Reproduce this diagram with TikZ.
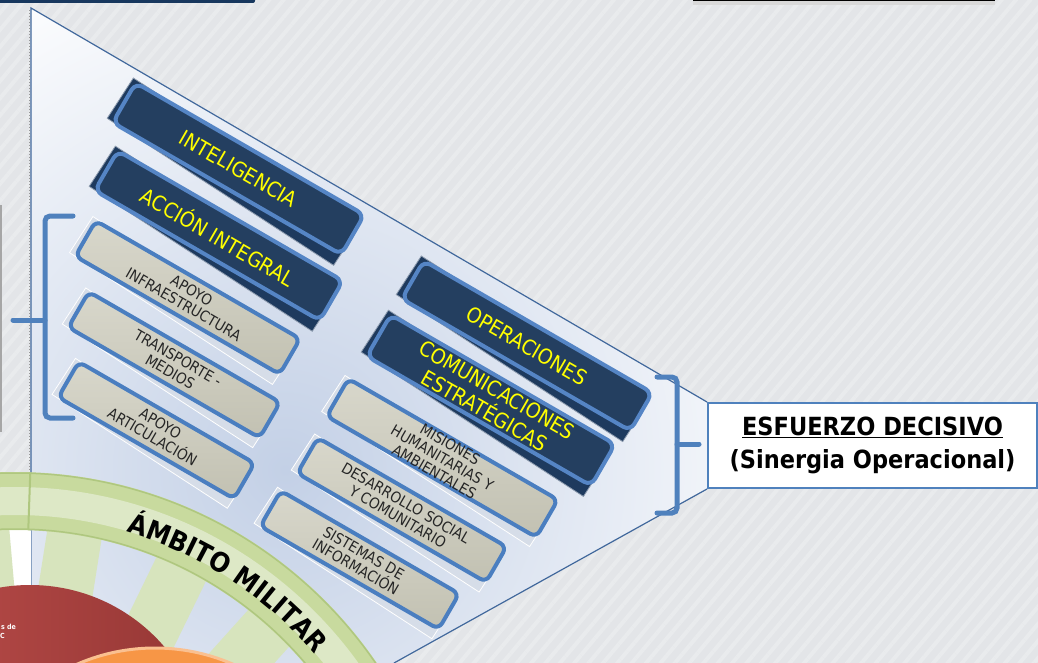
\documentclass[tikz,border=0pt]{standalone}
\usepackage{fontspec}
\setmainfont{DejaVu Sans}[FakeStretch=0.9]
\usetikzlibrary{calc,decorations.text,patterns.meta}
\newcommand{\ringfont}{\fontsize{27}{30}\selectfont\bfseries}

\definecolor{bggray}{HTML}{E3E5E8}
\definecolor{bgstripe}{HTML}{E9EBED}
\definecolor{navyfill}{HTML}{243F60}
\definecolor{navyline}{HTML}{5585C5}
\definecolor{navyshade}{HTML}{1E3A5E}
\definecolor{grayfilltop}{HTML}{D8D7CB}
\definecolor{grayfillbot}{HTML}{C2C1B2}
\definecolor{grayline}{HTML}{4A7EC0}
\definecolor{grayshade}{HTML}{D6DDE8}
\definecolor{bracketblue}{HTML}{4F81BD}
\definecolor{calloutblue}{HTML}{41689C}
\definecolor{glowblue}{HTML}{C3D0E6}
\definecolor{ringgreen}{HTML}{C8DA9E}
\definecolor{ringlight}{HTML}{DDE8C6}
\definecolor{ringedge}{HTML}{AFC77F}
\definecolor{bargreen}{HTML}{D7E4BD}
\definecolor{redl}{HTML}{C0504D}
\definecolor{redd}{HTML}{943634}
\definecolor{orangec}{HTML}{F79646}
\definecolor{orangeedge}{HTML}{FAC090}
\definecolor{textyellow}{HTML}{FFFF00}
\definecolor{navytop}{HTML}{17375E}

\tikzset{
  navybox/.style={rectangle, rounded corners=8pt, fill=navyfill, draw=navyline,
    line width=4pt, text=textyellow, font=\fontsize{21}{24}\selectfont,
    align=center, inner sep=0pt, rotate=-30},
  navyshadow/.style={rectangle, fill=navyshade, draw=navyshade!50!white,
    line width=0.8pt, inner sep=0pt, rotate=-33},
  graybox/.style={rectangle, rounded corners=7pt, top color=grayfilltop,
    bottom color=grayfillbot, draw=grayline, line width=4pt, text=black!85,
    font=\fontsize{15}{16}\selectfont, align=center, inner sep=0pt, rotate=-30},
  grayshadow/.style={rectangle, fill=grayshade, draw=white, line width=0.8pt,
    inner sep=0pt, rotate=-33},
  bracketline/.style={bracketblue, line width=5pt, rounded corners=5pt, line cap=round},
  ringbar/.style={rectangle, fill=bargreen, inner sep=0pt, minimum width=55pt, minimum height=90pt},
  esfbox/.style={rectangle, fill=white, draw=bracketblue, line width=2pt,
    font=\bfseries\fontsize{25}{33}\selectfont, align=center, inner sep=0pt,
    minimum width=329pt, minimum height=85pt}
}

\begin{document}
\begin{tikzpicture}[x=1pt,y=-1pt]
\useasboundingbox (0,0) rectangle (1038,663);
\clip (0,0) rectangle (1038,663);

% Slide background
\fill[bggray] (0,0) rectangle (1038,663);
\fill[pattern={Lines[angle=50, distance=11pt, line width=4pt]}, pattern color=bgstripe] (0,0) rectangle (1038,663);
\fill[navytop, rounded corners=2pt] (-5,-5) rectangle (255,3);
\fill[black!15] (693,1) rectangle (995,5);
\fill[black] (693,-5) rectangle (995,1.5);
\draw[black!35, line width=2pt] (1,205) -- (1,432);

% Callout wedge towards the decisive effort box
\coordinate (esfnw) at (707,402);
\coordinate (esfsw) at (707,489);
\fill[white] (31,8) -- (esfnw) -- (esfsw) -- (394,663) -- (31,663) -- cycle;
\begin{scope}
  \clip (31,8) -- (esfnw) -- (esfsw) -- (394,663) -- (31,663) -- cycle;
  \shade[inner color=glowblue, outer color=white] (285,470) circle[radius=560];
\end{scope}
\draw[calloutblue, line width=1.2pt] (31,663) -- (31,8) -- (esfnw);
\draw[calloutblue, line width=1.2pt] (esfsw) -- (394,663);
\draw[black!40, dotted, line width=1pt] (29,10) -- (29,663);

% Military ring (bottom left)
\coordinate (ringc) at (15,910);
\begin{scope}
  \clip (0,0) rectangle (31,663);
  \fill[white] (ringc) circle[radius=380];
\end{scope}
\node[ringbar, rotate=5] (bar1) at ($(ringc)+(-95:340)$) {};
\node[ringbar, rotate=-9] (bar2) at ($(ringc)+(-81:340)$) {};
\node[ringbar, rotate=-26] (bar3) at ($(ringc)+(-64:344)$) {};
\node[ringbar, rotate=-42] (bar4) at ($(ringc)+(-48:347)$) {};
\shade[left color=redl, right color=redd] (30,762) circle[radius=177];
\fill[orangec] (155,843) circle[radius=195];
\draw[orangeedge, line width=3pt] (155,843) circle[radius=195];
\node[font=\fontsize{7}{8}\selectfont\bfseries, text=white, anchor=west, inner sep=0pt] (redtxta) at (1,627) {s de};
\node[font=\fontsize{7}{8}\selectfont\bfseries, text=white, anchor=west, inner sep=0pt] (redtxtb) at (0,636) {C};

\fill[ringgreen, even odd rule] (ringc) circle[radius=438] circle[radius=380];
\draw[ringlight, line width=28pt] (ringc) circle[radius=409];
\draw[ringedge, line width=1.5pt] (ringc) circle[radius=437];
\draw[ringedge, line width=1.5pt] (ringc) circle[radius=381];
\draw[ringedge, line width=2pt] ($(ringc)+(-88:380)$) -- ($(ringc)+(-88:438)$);
\path[decorate, decoration={text along path, text={|\ringfont|ÁMBITO MILITAR}, text align=center}]
  ($(ringc)+(-77:394)$) arc[start angle=-77, end angle=-37, radius=394];

% Box centres
\coordinate (intelc) at (238.5,168.7);
\coordinate (accionc) at (218.8,235.7);
\coordinate (infrac) at (187.7,297.5);
\coordinate (transpc) at (174.2,364.8);
\coordinate (articc) at (156.4,430.3);
\coordinate (operacc) at (527,345.8);
\coordinate (comunc) at (490.9,400.3);
\coordinate (misioc) at (442.3,458);
\coordinate (desarrc) at (401.9,510);
\coordinate (sistemc) at (359.7,560);

% Left column
\node[navyshadow, minimum width=270pt, minimum height=48pt] (intel-sh) at ($(intelc)+(-5,3)$) {};
\node[navybox, minimum width=264pt, minimum height=46pt] (intel) at (intelc) {INTELIGENCIA};
\node[navyshadow, minimum width=266pt, minimum height=48pt] (accion-sh) at ($(accionc)+(-5,3)$) {};
\node[navybox, minimum width=260pt, minimum height=46pt] (accion) at (accionc) {ACCIÓN INTEGRAL};
\node[grayshadow, minimum width=242pt, minimum height=43pt] (infra-sh) at ($(infrac)+(-5,3)$) {};
\node[graybox, minimum width=236pt, minimum height=41pt] (infra) at (infrac) {APOYO\\INFRAESTRUCTURA};
\node[grayshadow, minimum width=227pt, minimum height=43pt] (transp-sh) at ($(transpc)+(-5,3)$) {};
\node[graybox, minimum width=221pt, minimum height=41pt] (transp) at (transpc) {TRANSPORTE -\\MEDIOS};
\node[grayshadow, minimum width=209pt, minimum height=43pt] (artic-sh) at ($(articc)+(-5,3)$) {};
\node[graybox, minimum width=203pt, minimum height=41pt] (artic) at (articc) {APOYO\\ARTICULACIÓN};

% Right column
\node[navyshadow, minimum width=270pt, minimum height=46pt] (operac-sh) at ($(operacc)+(-5,3)$) {};
\node[navybox, minimum width=264pt, minimum height=44pt] (operac) at (operacc) {OPERACIONES};
\node[navyshadow, minimum width=265pt, minimum height=50pt] (comun-sh) at ($(comunc)+(-5,3)$) {};
\node[navybox, minimum width=259pt, minimum height=48pt] (comun) at (comunc) {COMUNICACIONES\\ESTRATÉGICAS};
\node[grayshadow, minimum width=248pt, minimum height=43pt] (misio-sh) at ($(misioc)+(-5,3)$) {};
\node[graybox, minimum width=242pt, minimum height=41pt] (misio) at (misioc) {MISIONES\\HUMANITARIAS Y\\AMBIENTALES};
\node[grayshadow, minimum width=224pt, minimum height=43pt] (desarr-sh) at ($(desarrc)+(-5,3)$) {};
\node[graybox, minimum width=218pt, minimum height=41pt] (desarr) at (desarrc) {DESARROLLO SOCIAL\\Y COMUNITARIO};
\node[grayshadow, minimum width=212pt, minimum height=43pt] (sistem-sh) at ($(sistemc)+(-5,3)$) {};
\node[graybox, minimum width=206pt, minimum height=41pt] (sistem) at (sistemc) {SISTEMAS DE\\INFORMACIÓN};

% Brackets
\draw[bracketline] (73,216) -- (45,216) -- (45,418) -- (73,418);
\draw[bracketline] (45,320) -- (13,320);
\draw[bracketline] (657,377) -- (677,377) -- (677,513) -- (657,513);
\draw[bracketline] (677,444) -- (699,444);

% Decisive effort box
\node[esfbox, anchor=north west] (esf) at (esfnw) {\underline{ESFUERZO DECISIVO}\\(Sinergia Operacional)};
\end{tikzpicture}
\end{document}
